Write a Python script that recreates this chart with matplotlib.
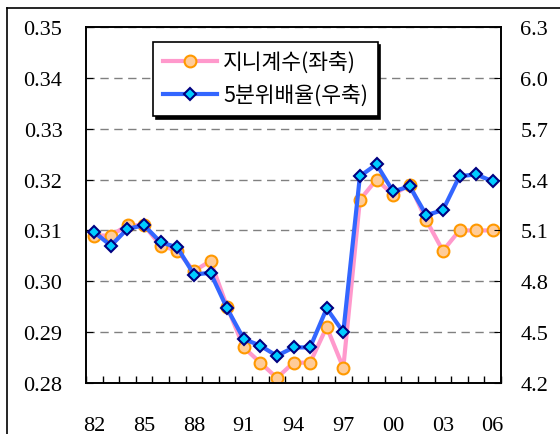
import numpy as np
import matplotlib
matplotlib.use('Agg')
import matplotlib.pyplot as plt
from matplotlib.lines import Line2D

# Korea income inequality, 1982-2006
years = [str(y)[-2:] for y in range(1982, 2007)]
gini = [0.309, 0.309, 0.311, 0.311, 0.307, 0.306, 0.302, 0.304, 0.295, 0.287,
        0.284, 0.281, 0.284, 0.284, 0.291, 0.283, 0.316, 0.320, 0.317, 0.319,
        0.312, 0.306, 0.310, 0.310, 0.310]
quintile = [5.09, 5.01, 5.11, 5.13, 5.03, 5.00, 4.84, 4.85, 4.64, 4.46,
            4.42, 4.36, 4.41, 4.41, 4.64, 4.50, 5.42, 5.49, 5.33, 5.36,
            5.19, 5.22, 5.42, 5.43, 5.39]
label_years = ['82', '85', '88', '91', '94', '97', '00', '03', '06']
gini_ticks = [0.28, 0.29, 0.30, 0.31, 0.32, 0.33, 0.34, 0.35]
ratio_ticks = [4.2, 4.5, 4.8, 5.1, 5.4, 5.7, 6.0, 6.3]

tick_font = {'family': 'Liberation Serif', 'size': 16}
kr_font = ['Noto Sans CJK KR', 'DejaVu Sans']

fig = plt.figure(figsize=(5.6, 4.35), dpi=100)
ax = fig.add_axes([86 / 560, 1 - 384 / 435, 415 / 560, 356 / 435])
ax2 = ax.twinx()

x = np.arange(len(years))
l1, = ax.plot(x, gini, color='#FF99CC', lw=3, marker='o', ms=8.5,
              mfc='#FFCC99', mec='#FF9900', mew=1.5, label='지니계수(좌축)')
l2, = ax2.plot(x, quintile, color='#3366FF', lw=3, marker='D', ms=6,
               mfc='#00CCFF', mec='#000080', mew=1.5, label='5분위배율(우축)')

ax.set_xlim(-0.5, len(years) - 0.5)
ax.set_ylim(0.28, 0.35)
ax2.set_ylim(4.2, 6.3)

ax.set_yticks(gini_ticks)
ax.set_yticklabels(['%.2f' % v for v in gini_ticks], fontdict=tick_font)
ax2.set_yticks(ratio_ticks)
ax2.set_yticklabels(['%.1f' % v for v in ratio_ticks], fontdict=tick_font)

# year labels every third category, tick marks on category boundaries
ax.set_xticks([years.index(y) for y in label_years])
ax.set_xticklabels(label_years, fontdict=tick_font)
ax.set_xticks(np.arange(-0.5, len(years)), minor=True)
ax.tick_params(axis='x', which='major', length=0, pad=24)
ax.tick_params(axis='x', which='minor', direction='in', length=5, width=1)
ax.tick_params(axis='y', direction='in', length=5, pad=17)
ax2.tick_params(axis='y', direction='in', length=5, pad=14)

ax.yaxis.grid(True, color='#808080', linestyle=(0, (6, 4)), lw=1)
for a in (ax, ax2):
    for s in a.spines.values():
        s.set_linewidth(1.2)

leg = fig.legend(handles=[l1, l2], loc='upper left',
                 bbox_to_anchor=(153 / 560, 1 - 43 / 435), borderaxespad=0,
                 prop={'family': kr_font, 'size': 15.5}, fancybox=False,
                 edgecolor='black', framealpha=1, handlelength=2.5,
                 borderpad=0.45, labelspacing=0.5, handletextpad=0.3,
                 shadow={'color': 'black', 'alpha': 1})
leg.get_frame().set_linewidth(1.2)

# outer frame edges
fig.add_artist(Line2D([7 / 560, 7 / 560], [0, 1 - 9 / 435], color='black', lw=1.2))
fig.add_artist(Line2D([7 / 560, 1], [1 - 9 / 435, 1 - 9 / 435], color='black', lw=1.2))

fig.savefig('out.png', dpi=100)
